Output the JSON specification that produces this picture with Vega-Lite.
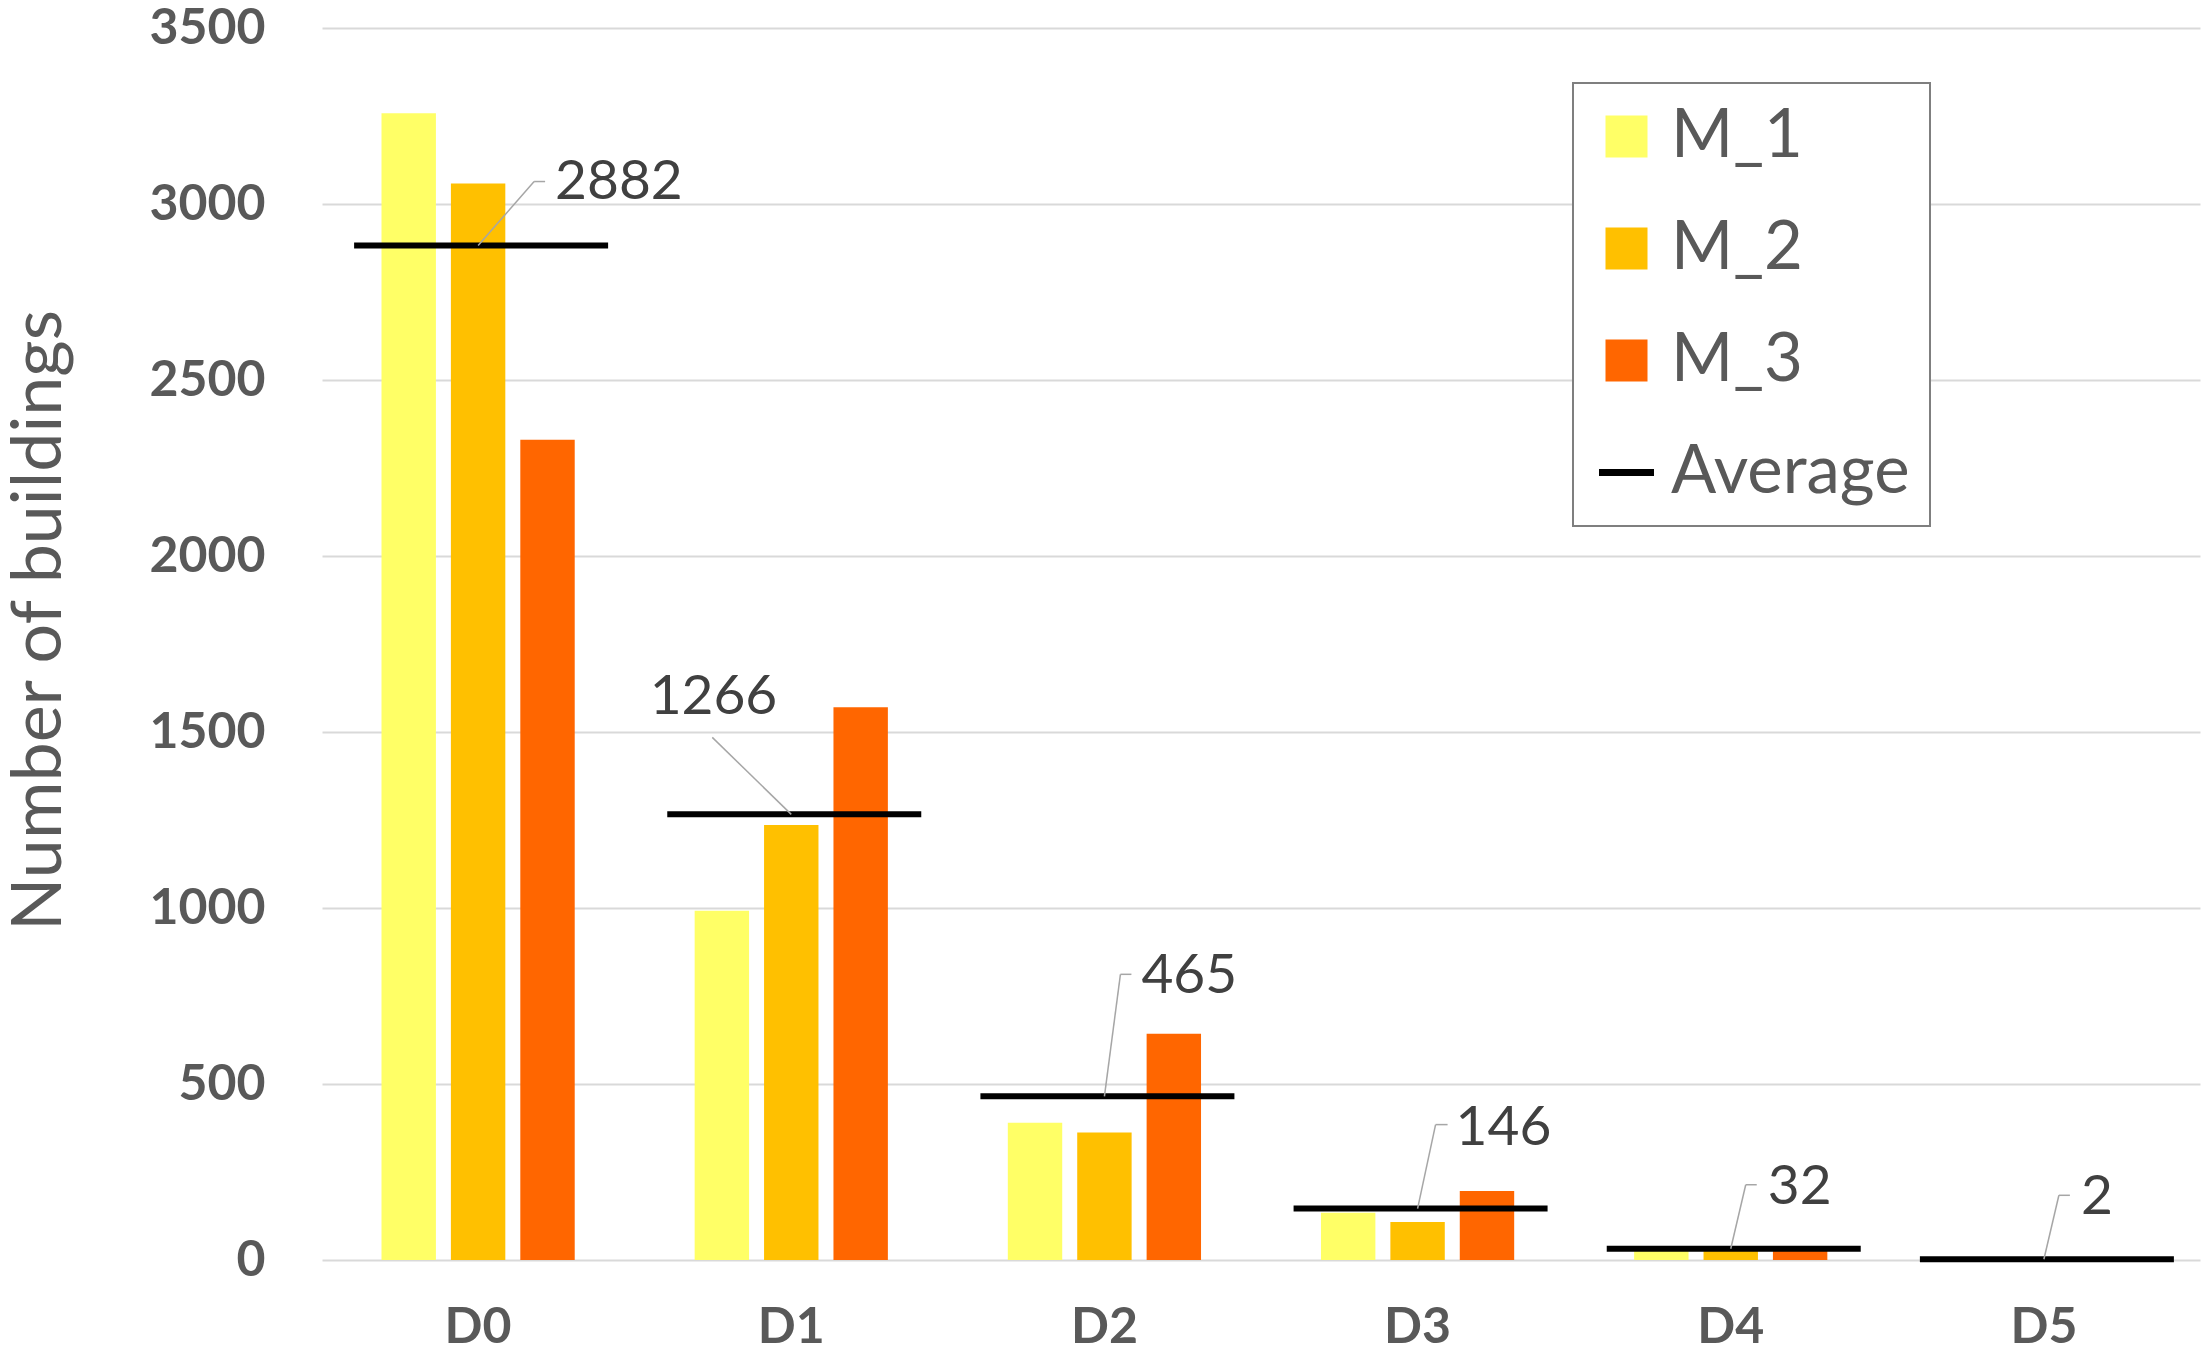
{
  "$schema": "https://vega.github.io/schema/vega-lite/v6.json",
  "autosize": "none",
  "width": 1878,
  "height": 1232,
  "padding": {"left": 322, "top": 28, "right": 5, "bottom": 97},
  "background": "white",
  "config": {
    "font": "Lato",
    "view": {"stroke": null}
  },
  "datasets": {
    "bars": [
      {"group": "D0", "series": "M_1", "count": 3258},
      {"group": "D0", "series": "M_2", "count": 3058},
      {"group": "D0", "series": "M_3", "count": 2330},
      {"group": "D1", "series": "M_1", "count": 992},
      {"group": "D1", "series": "M_2", "count": 1236},
      {"group": "D1", "series": "M_3", "count": 1570},
      {"group": "D2", "series": "M_1", "count": 390},
      {"group": "D2", "series": "M_2", "count": 362},
      {"group": "D2", "series": "M_3", "count": 643},
      {"group": "D3", "series": "M_1", "count": 134},
      {"group": "D3", "series": "M_2", "count": 108},
      {"group": "D3", "series": "M_3", "count": 196},
      {"group": "D4", "series": "M_1", "count": 28},
      {"group": "D4", "series": "M_2", "count": 30},
      {"group": "D4", "series": "M_3", "count": 38},
      {"group": "D5", "series": "M_1", "count": 1},
      {"group": "D5", "series": "M_2", "count": 2},
      {"group": "D5", "series": "M_3", "count": 3}
    ],
    "averages": [
      {"group": "D0", "series": "Average", "avg": 2882},
      {"group": "D1", "series": "Average", "avg": 1266},
      {"group": "D2", "series": "Average", "avg": 465},
      {"group": "D3", "series": "Average", "avg": 146},
      {"group": "D4", "series": "Average", "avg": 32},
      {"group": "D5", "series": "Average", "avg": 2}
    ]
  },
  "layer": [
    {
      "data": {"name": "bars"},
      "mark": {"type": "bar"},
      "encoding": {
        "x": {
          "field": "group", "type": "nominal",
          "scale": {"paddingInner": 0.383, "paddingOuter": 0.19},
          "axis": {
            "title": null, "labelAngle": 0, "ticks": false, "domain": false,
            "labelFontSize": 50, "labelFontWeight": "bold", "labelColor": "#595959",
            "labelPadding": 42
          }
        },
        "xOffset": {
          "field": "series", "type": "nominal",
          "scale": {"paddingInner": 0.216, "paddingOuter": 0}
        },
        "y": {
          "field": "count", "type": "quantitative",
          "scale": {"domain": [0, 3500], "nice": false},
          "axis": {
            "title": "Number of buildings",
            "values": [0, 500, 1000, 1500, 2000, 2500, 3000, 3500],
            "format": "d",
            "grid": true, "gridColor": "#d9d9d9", "gridWidth": 2,
            "domain": false, "ticks": false,
            "labelFontSize": 50, "labelFontWeight": "bold", "labelColor": "#595959",
            "labelPadding": 57,
            "titleFontSize": 70, "titleFontWeight": "normal", "titleColor": "#595959",
            "titleX": -262, "titleY": 592, "titleAngle": -90,
            "titleAlign": "center", "titleBaseline": "alphabetic"
          }
        },
        "color": {
          "field": "series", "type": "nominal",
          "scale": {
            "domain": ["M_1", "M_2", "M_3", "Average"],
            "range": ["#FFFF66", "#FFC000", "#FF6600", "#000000"]
          },
          "legend": {
            "title": null, "orient": "none", "legendX": 1251, "legendY": 55,
            "padding": 20, "fillColor": "white", "strokeColor": "#7f7f7f",
            "symbolSize": 1764, "labelFontSize": 67, "labelColor": "#595959",
            "labelLimit": 500,
            "rowPadding": 44, "labelOffset": 11,
            "encode": {
              "legend": {"update": {"strokeWidth": {"value": 2}}},
              "symbols": {
                "update": {
                  "shape": {"signal": "datum.value === 'Average' ? 'stroke' : 'square'"},
                  "size": {"signal": "datum.value === 'Average' ? 3025 : 1764"},
                  "strokeWidth": {"signal": "datum.value === 'Average' ? 7 : 0"},
                  "stroke": {"signal": "datum.value === 'Average' ? '#000000' : 'transparent'"}
                }
              }
            }
          }
        }
      }
    },
    {
      "data": {"name": "averages"},
      "mark": {"type": "rule", "strokeWidth": 6, "xOffset": -124, "x2Offset": 130},
      "encoding": {
        "x": {"field": "group", "type": "nominal", "bandPosition": 0.5},
        "x2": {"field": "group", "bandPosition": 0.5},
        "y": {"field": "avg", "type": "quantitative"},
        "color": {"field": "series", "type": "nominal"}
      }
    },
    {
      "data": {"name": "averages"},
      "transform": [{"filter": "datum.group === 'D0'"}],
      "encoding": {
        "x": {"field": "group", "type": "nominal", "bandPosition": 0.5},
        "y": {"field": "avg", "type": "quantitative"}
      },
      "layer": [
        {
          "mark": {"type": "rule", "stroke": "#a6a6a6", "strokeWidth": 1.5, "x2Offset": 56, "y2Offset": -64},
          "encoding": {"x2": {"field": "group", "bandPosition": 0.5}, "y2": {"field": "avg"}}
        },
        {
          "mark": {"type": "rule", "stroke": "#a6a6a6", "strokeWidth": 1.5, "xOffset": 56, "x2Offset": 67, "yOffset": -64},
          "encoding": {"x2": {"field": "group", "bandPosition": 0.5}}
        },
        {
          "mark": {"type": "text", "align": "left", "baseline": "middle", "dx": 77, "dy": -64, "fontSize": 55, "color": "#404040"},
          "encoding": {"text": {"field": "avg", "type": "quantitative"}}
        }
      ]
    },
    {
      "data": {"name": "averages"},
      "transform": [{"filter": "datum.group === 'D1'"}],
      "encoding": {
        "x": {"field": "group", "type": "nominal", "bandPosition": 0.5},
        "y": {"field": "avg", "type": "quantitative"}
      },
      "layer": [
        {
          "mark": {"type": "rule", "stroke": "#a6a6a6", "strokeWidth": 1.5, "x2Offset": -79, "y2Offset": -77},
          "encoding": {"x2": {"field": "group", "bandPosition": 0.5}, "y2": {"field": "avg"}}
        },
        {
          "mark": {"type": "text", "align": "right", "baseline": "middle", "dx": -14, "dy": -117, "fontSize": 55, "color": "#404040"},
          "encoding": {"text": {"field": "avg", "type": "quantitative"}}
        }
      ]
    },
    {
      "data": {"name": "averages"},
      "transform": [{"filter": "datum.group === 'D2'"}],
      "encoding": {
        "x": {"field": "group", "type": "nominal", "bandPosition": 0.5},
        "y": {"field": "avg", "type": "quantitative"}
      },
      "layer": [
        {
          "mark": {"type": "rule", "stroke": "#a6a6a6", "strokeWidth": 1.5, "x2Offset": 16, "y2Offset": -122},
          "encoding": {"x2": {"field": "group", "bandPosition": 0.5}, "y2": {"field": "avg"}}
        },
        {
          "mark": {"type": "rule", "stroke": "#a6a6a6", "strokeWidth": 1.5, "xOffset": 16, "x2Offset": 27, "yOffset": -122},
          "encoding": {"x2": {"field": "group", "bandPosition": 0.5}}
        },
        {
          "mark": {"type": "text", "align": "left", "baseline": "middle", "dx": 37, "dy": -120, "fontSize": 55, "color": "#404040"},
          "encoding": {"text": {"field": "avg", "type": "quantitative"}}
        }
      ]
    },
    {
      "data": {"name": "averages"},
      "transform": [{"filter": "datum.group === 'D3'"}],
      "encoding": {
        "x": {"field": "group", "type": "nominal", "bandPosition": 0.5},
        "y": {"field": "avg", "type": "quantitative"}
      },
      "layer": [
        {
          "mark": {"type": "rule", "stroke": "#a6a6a6", "strokeWidth": 1.5, "x2Offset": 18, "y2Offset": -84},
          "encoding": {"x2": {"field": "group", "bandPosition": 0.5}, "y2": {"field": "avg"}}
        },
        {
          "mark": {"type": "rule", "stroke": "#a6a6a6", "strokeWidth": 1.5, "xOffset": 18, "x2Offset": 30, "yOffset": -84},
          "encoding": {"x2": {"field": "group", "bandPosition": 0.5}}
        },
        {
          "mark": {"type": "text", "align": "left", "baseline": "middle", "dx": 38, "dy": -81, "fontSize": 55, "color": "#404040"},
          "encoding": {"text": {"field": "avg", "type": "quantitative"}}
        }
      ]
    },
    {
      "data": {"name": "averages"},
      "transform": [{"filter": "datum.group === 'D4' || datum.group === 'D5'"}],
      "encoding": {
        "x": {"field": "group", "type": "nominal", "bandPosition": 0.5},
        "y": {"field": "avg", "type": "quantitative"}
      },
      "layer": [
        {
          "mark": {"type": "rule", "stroke": "#a6a6a6", "strokeWidth": 1.5, "x2Offset": 15, "y2Offset": -64},
          "encoding": {"x2": {"field": "group", "bandPosition": 0.5}, "y2": {"field": "avg"}}
        },
        {
          "mark": {"type": "rule", "stroke": "#a6a6a6", "strokeWidth": 1.5, "xOffset": 15, "x2Offset": 26, "yOffset": -64},
          "encoding": {"x2": {"field": "group", "bandPosition": 0.5}}
        },
        {
          "mark": {"type": "text", "align": "left", "baseline": "middle", "dx": 37, "dy": -62, "fontSize": 55, "color": "#404040"},
          "encoding": {"text": {"field": "avg", "type": "quantitative"}}
        }
      ]
    }
  ]
}
